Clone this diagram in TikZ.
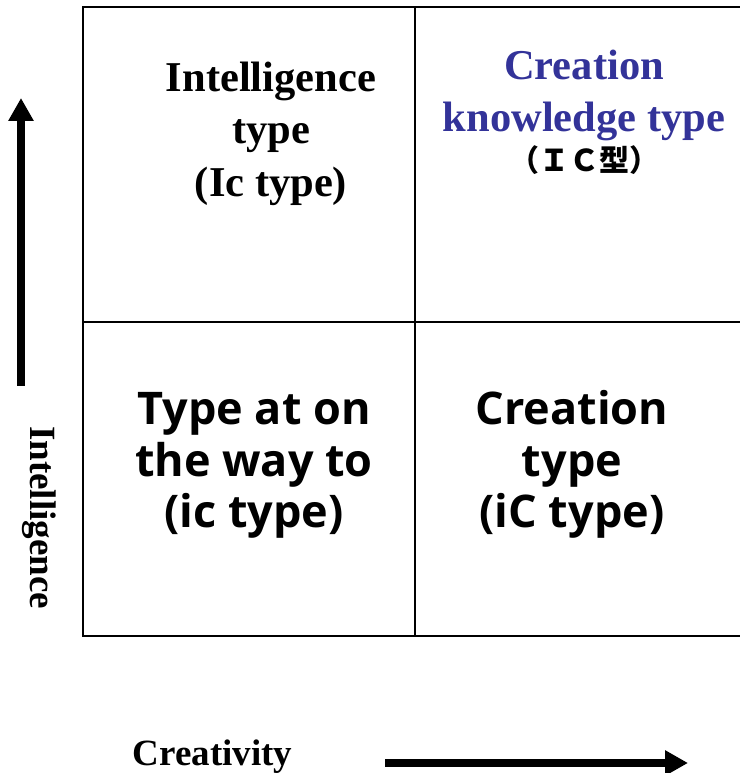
\documentclass[tikz,border=0pt]{standalone}
\usepackage{fontspec}
\setmainfont{Liberation Serif}
\newfontfamily\osans{Open Sans}
\newfontfamily\cjk{Noto Sans CJK JP}
\usetikzlibrary{arrows.meta}
\definecolor{ckblue}{RGB}{51,51,153}
\begin{document}
\begin{tikzpicture}[x=1pt,y=1pt,
  gridline/.style={line width=2pt},
  serifhead/.style={font=\fontsize{42.5}{52.5}\selectfont\bfseries, align=center, inner sep=0pt},
  sanshead/.style={font=\osans\fontsize{45}{51.5}\selectfont\bfseries, align=center, inner sep=0pt},
  axislabel/.style={font=\fontsize{37}{44}\selectfont\bfseries, inner sep=0pt},
  axisarrow/.style={line width=8pt, -{Triangle[width=24pt,length=23pt]}}]
\useasboundingbox (0,0) rectangle (739,773);
% grid
\coordinate (gSW) at (82.5,137);
\coordinate (gNE) at (746,765.5);
\coordinate (mW) at (82.5,451);
\coordinate (mE) at (746,451);
\coordinate (mS) at (415,137);
\coordinate (mN) at (415,765.5);
\draw[gridline] (gSW) rectangle (gNE);
\draw[gridline] (mW) -- (mE);
\draw[gridline] (mS) -- (mN);
% cell texts (anchor=base is the baseline of the last line)
\node[serifhead, anchor=base] (ic) at (271,576.5) {Intelligence\\type\\(Ic type)};
\node[serifhead, text=ckblue, anchor=base] (ck) at (584,641) {Creation\\knowledge type};
\node[font=\cjk\fontsize{30}{30}\selectfont\bfseries, anchor=base, inner sep=0pt] (ckj) at (584,601) {（ＩＣ型）};
\node[sanshead, anchor=base] (way) at (254,245) {Type at on\\the way to\\(ic type)};
\node[sanshead, anchor=base] (cr) at (572,245) {Creation\\type\\(iC type)};
% axes
\node[axislabel, rotate=-90, anchor=base] (intel) at (30,255.5) {Intelligence};
\node[axislabel, anchor=base] (crea) at (212.5,8) {Creativity};
\coordinate (ua0) at (21,387);
\coordinate (ua1) at (21,675);
\draw[axisarrow] (ua0) -- (ua1);
\coordinate (ra0) at (385,10);
\coordinate (ra1) at (688,10);
\draw[axisarrow] (ra0) -- (ra1);
\end{tikzpicture}
\end{document}
